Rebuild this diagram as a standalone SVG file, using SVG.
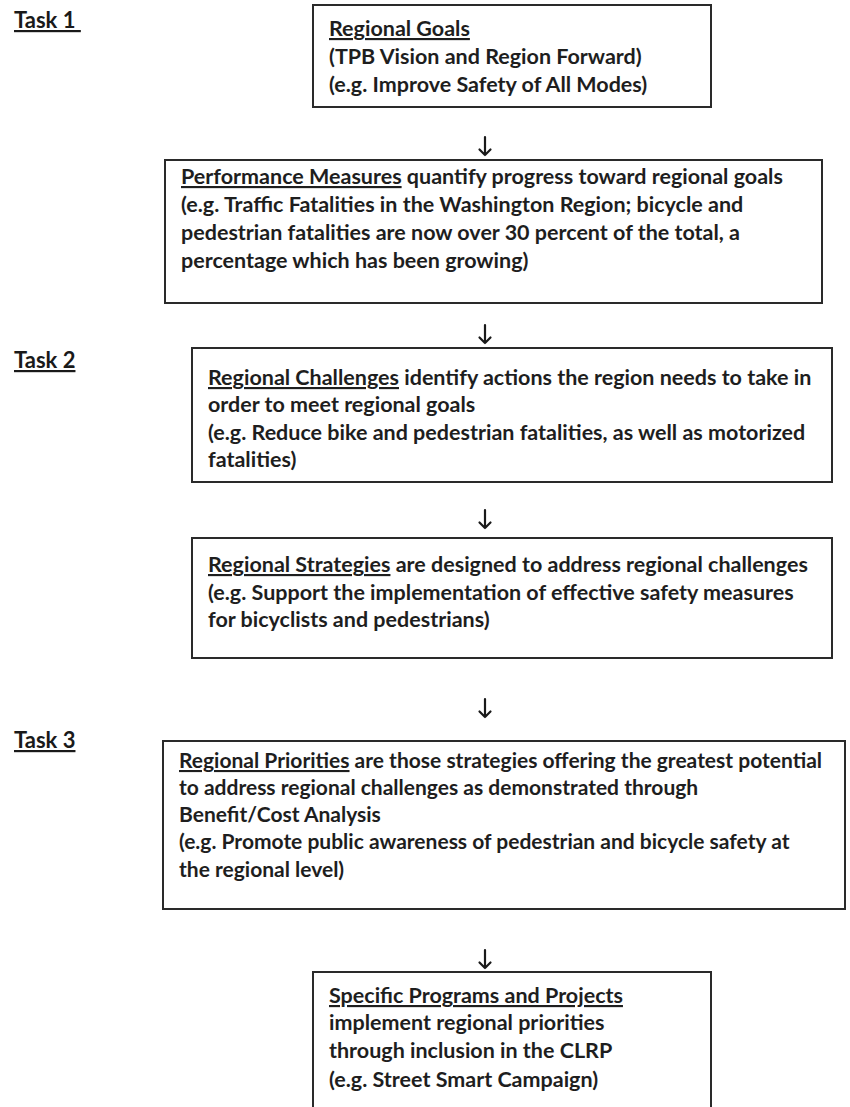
<svg xmlns="http://www.w3.org/2000/svg" width="850" height="1107" viewBox="0 0 850 1107">
<style>
  .box { fill: #ffffff; stroke: #2a2a2a; stroke-width: 2; }
  .t { font-family: Lato, "Open Sans", sans-serif; font-size: 21.5px; font-weight: 700; fill: #1e1e1e; }
  .n { font-size: 21px; }
  .task { font-family: Lato, "Open Sans", sans-serif; font-size: 22px; font-weight: 700; fill: #1a1a1a; text-decoration: underline; }
  .u { text-decoration: underline; }
  .arr { fill: none; stroke: #1a1a1a; stroke-width: 2.2; stroke-linecap: round; stroke-linejoin: round; }
</style>
<rect width="850" height="1107" fill="#ffffff"/>

<g id="task1"><text class="task" x="14" y="28">Task 1&#160;</text></g>
<g id="task2"><text class="task" x="14" y="368">Task 2</text></g>
<g id="task3"><text class="task" x="14" y="748">Task 3</text></g>

<g id="connectors">
  <path class="arr" d="M485,137 V155 M479.5,149.5 L485,155 L490.5,149.5"/>
  <path class="arr" d="M485,325 V343 M479.5,337.5 L485,343 L490.5,337.5"/>
  <path class="arr" d="M485,510 V528 M479.5,522.5 L485,528 L490.5,522.5"/>
  <path class="arr" d="M485,699 V717 M479.5,711.5 L485,717 L490.5,711.5"/>
  <path class="arr" d="M485,950 V968 M479.5,962.5 L485,968 L490.5,962.5"/>
</g>

<g id="node-goals">
  <rect class="box" x="313" y="5" width="398" height="102"/>
  <text class="t" x="329" y="36"><tspan class="u">Regional Goals</tspan></text>
  <text class="t" x="329" y="64">(TPB Vision and Region Forward)</text>
  <text class="t" x="329" y="92">(e.g. Improve Safety of All Modes)</text>
</g>

<g id="node-measures">
  <rect class="box" x="165" y="160" width="657" height="143"/>
  <text class="t" x="181" y="184"><tspan class="u">Performance Measures</tspan> quantify progress toward regional goals</text>
  <text class="t" x="181" y="212">(e.g. Traffic Fatalities in the Washington Region; bicycle and</text>
  <text class="t" x="181" y="240">pedestrian fatalities are now over 30 percent of the total, a</text>
  <text class="t" x="181" y="268">percentage which has been growing)</text>
</g>

<g id="node-challenges">
  <rect class="box" x="192" y="348" width="640" height="134"/>
  <text class="t" x="208" y="385"><tspan class="u">Regional Challenges</tspan> identify actions the region needs to take in</text>
  <text class="t" x="208" y="412">order to meet regional goals</text>
  <text class="t" x="208" y="440">(e.g. Reduce bike and pedestrian fatalities, as well as motorized</text>
  <text class="t" x="208" y="467">fatalities)</text>
</g>

<g id="node-strategies">
  <rect class="box" x="192" y="538" width="640" height="120"/>
  <text class="t" x="208" y="572"><tspan class="u">Regional Strategies</tspan> are designed to address regional challenges</text>
  <text class="t" x="208" y="600">(e.g. Support the implementation of effective safety measures</text>
  <text class="t" x="208" y="627">for bicyclists and pedestrians)</text>
</g>

<g id="node-priorities">
  <rect class="box" x="163" y="741" width="682" height="168"/>
  <text class="t n" x="179" y="768"><tspan class="u">Regional Priorities</tspan> are those strategies offering the greatest potential</text>
  <text class="t n" x="179" y="795">to address regional challenges as demonstrated through</text>
  <text class="t n" x="179" y="822">Benefit/Cost Analysis</text>
  <text class="t n" x="179" y="849">(e.g. Promote public awareness of pedestrian and bicycle safety at</text>
  <text class="t n" x="179" y="877">the regional level)</text>
</g>

<g id="node-projects">
  <rect class="box" x="313" y="972" width="398" height="145"/>
  <text class="t" x="329" y="1003"><tspan class="u">Specific Programs and Projects</tspan></text>
  <text class="t" x="329" y="1030">implement regional priorities</text>
  <text class="t" x="329" y="1058">through inclusion in the CLRP</text>
  <text class="t" x="329" y="1087">(e.g. Street Smart Campaign)</text>
</g>
</svg>
